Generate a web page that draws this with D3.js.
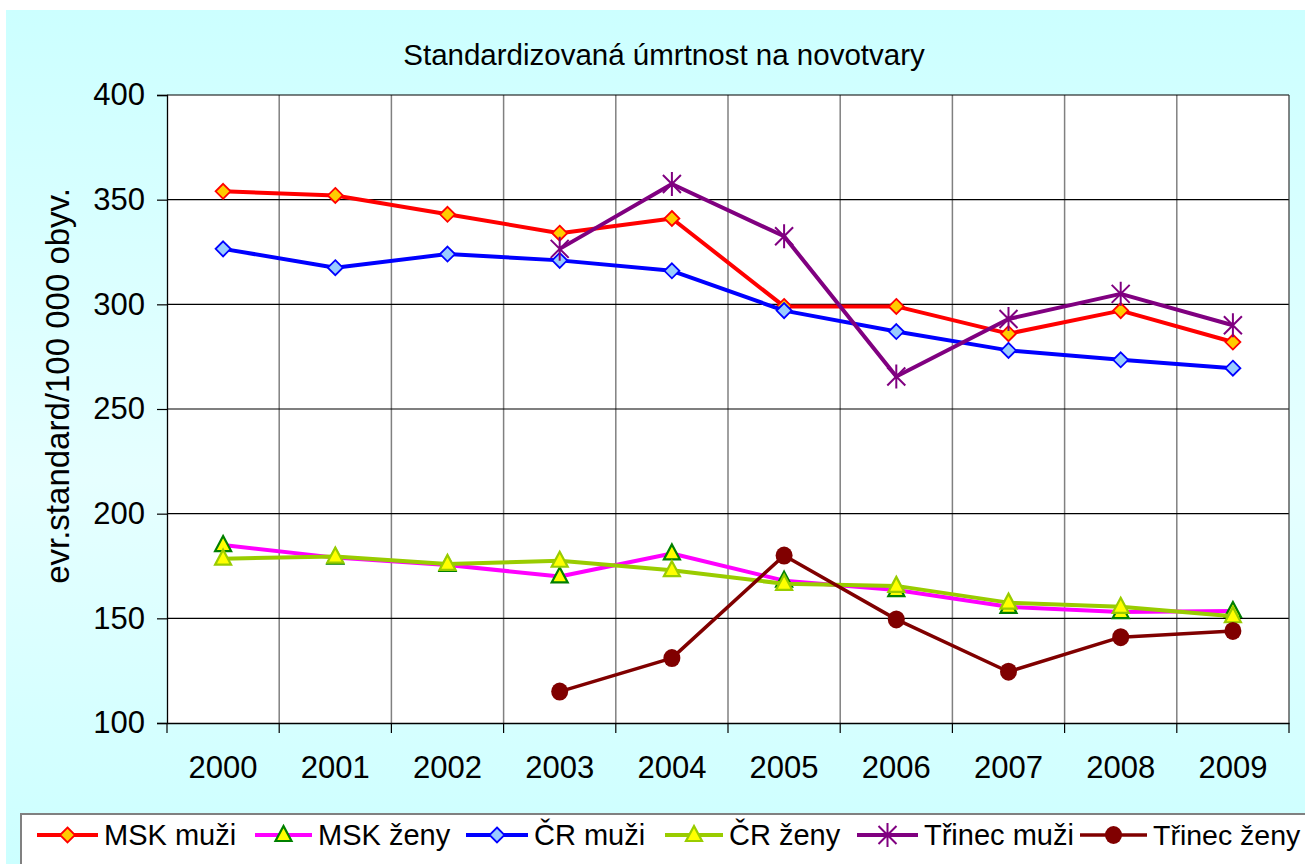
<!DOCTYPE html>
<html><head><meta charset="utf-8">
<script src="https://cdn.jsdelivr.net/npm/d3@7"></script>
<style>body{margin:0;background:#fff}svg{display:block}text{font-family:"Liberation Sans",Arial,sans-serif}</style>
</head><body>
<script>
const years = ["2000","2001","2002","2003","2004","2005","2006","2007","2008","2009"];
const yTicks = [100,150,200,250,300,350,400];
const mskMuzi   = [354,352,343,334,341,299,299,286,297,282];
const mskZeny   = [185,179,175.5,170,181,168,163.5,155.5,153,153.5];
const crMuzi    = [326.5,317.5,324,321,316,297,287,278,273.5,269.5];
const crZeny    = [178.5,179.5,176,177.5,173,166.5,165.5,157.5,155.5,151];
const trinecMuzi= [null,null,null,326.5,357.5,332.5,265.5,293,305,290];
const trinecZeny= [null,null,null,115,131,180,149.5,124.5,141,144];
const seriesNames = ["MSK muži","MSK ženy","ČR muži","ČR ženy","Třinec muži","Třinec ženy"];

const W=1305,H=864;
const svg=d3.select("body").append("svg").attr("width",W).attr("height",H);
const defs=svg.append("defs");
const g=defs.append("linearGradient").attr("id","bg").attr("x1",0).attr("y1",0).attr("x2",0).attr("y2",1);
g.append("stop").attr("offset","0").attr("stop-color","#CCFFFF");
g.append("stop").attr("offset","0.55").attr("stop-color","#E6FFFF");
g.append("stop").attr("offset","1").attr("stop-color","#CCFFFF");
svg.append("rect").attr("x",6).attr("y",10).attr("width",W-6).attr("height",H-10).attr("fill","url(#bg)");

const L=167,R=1289,T=95,B=723;
const x=d3.scaleBand().domain(years).range([L,R]);
const y=d3.scaleLinear().domain([100,400]).range([B,T]);
svg.append("rect").attr("x",L).attr("y",T).attr("width",R-L).attr("height",B-T).attr("fill","#fff");

const bounds=years.slice(1).map(d=>x(d));
svg.append("g").selectAll("line").data(bounds).join("line")
 .attr("x1",d=>d).attr("x2",d=>d).attr("y1",T).attr("y2",B).attr("stroke","#808080").attr("stroke-width",1.5);
svg.append("g").selectAll("line").data(yTicks.slice(1)).join("line")
 .attr("x1",L).attr("x2",R).attr("y1",d=>y(d)).attr("y2",d=>y(d)).attr("stroke","#000").attr("stroke-width",1.2);
svg.append("line").attr("x1",R).attr("x2",R).attr("y1",T).attr("y2",B).attr("stroke","#333").attr("stroke-width",1.2);

const yAxis=d3.axisLeft(y).tickValues(yTicks).tickSize(10).tickPadding(12);
const ya=svg.append("g").attr("transform",`translate(${L},0)`).call(yAxis);
ya.select(".domain").attr("stroke","#000").attr("stroke-width",1.3);
ya.selectAll(".tick line").attr("stroke","#000").attr("stroke-width",1.2);
ya.selectAll("text").attr("font-size",31).attr("fill","#000").attr("font-family","Liberation Sans, Arial, sans-serif");

const xAxis=d3.axisBottom(x).tickSize(0).tickPadding(33);
const xa=svg.append("g").attr("transform",`translate(0,${B})`).call(xAxis);
xa.select(".domain").attr("stroke","#000").attr("stroke-width",1.3);
xa.selectAll("text").attr("font-size",31).attr("fill","#000").attr("font-family","Liberation Sans, Arial, sans-serif");
svg.append("g").selectAll("line").data([L,...bounds,R]).join("line")
 .attr("x1",d=>d).attr("x2",d=>d).attr("y1",B).attr("y2",B+10).attr("stroke","#000").attr("stroke-width",1.2);

svg.append("text").attr("x",664).attr("y",65).attr("text-anchor","middle").attr("font-size",29.5).text("Standardizovaná úmrtnost na novotvary");
svg.append("text").attr("transform","translate(69,386) rotate(-90)").attr("text-anchor","middle").attr("font-size",33).text("evr.standard/100 000 obyv.");

const cx=d=>x(d)+x.bandwidth()/2;
const styles=[
 {data:mskMuzi,line:"#FF0000",w:4,m:"diamond",fill:"#FFCC00",stroke:"#FF0000"},
 {data:mskZeny,line:"#FF00FF",w:4,m:"triangle",fill:"#FFFF00",stroke:"#008000"},
 {data:crMuzi,line:"#0000FF",w:4,m:"diamond",fill:"#99CCFF",stroke:"#0000FF"},
 {data:crZeny,line:"#99CC00",w:4,m:"triangle",fill:"#FFFF00",stroke:"#99CC00"},
 {data:trinecMuzi,line:"#800080",w:4,m:"star",fill:"none",stroke:"#800080"},
 {data:trinecZeny,line:"#800000",w:3.5,m:"circle",fill:"#800000",stroke:"#800000"}
];
function drawMarker(sel,type,fill,stroke){
  if(type==="diamond") sel.append("path").attr("d","M0,-7.5L7.5,0L0,7.5L-7.5,0Z").attr("fill",fill).attr("stroke",stroke).attr("stroke-width",1.8);
  else if(type==="triangle") sel.append("path").attr("d","M0,-9L8,6L-8,6Z").attr("fill",fill).attr("stroke",stroke).attr("stroke-width",2.2);
  else if(type==="star") sel.append("path").attr("d","M-9,-9L9,9M-9,9L9,-9M0,-12L0,12").attr("fill","none").attr("stroke",stroke).attr("stroke-width",2);
  else if(type==="circle") sel.append("ellipse").attr("rx",8.5).attr("ry",9).attr("fill",fill);
}
styles.forEach(s=>{
  const pts=years.map((yr,i)=>({yr,v:s.data[i]})).filter(p=>p.v!=null);
  const line=d3.line().x(p=>cx(p.yr)).y(p=>y(p.v));
  svg.append("path").attr("d",line(pts)).attr("fill","none").attr("stroke",s.line).attr("stroke-width",s.w).attr("stroke-linejoin","round");
  pts.forEach(p=>{
    const gm=svg.append("g").attr("transform",`translate(${cx(p.yr)},${y(p.v)})`);
    drawMarker(gm,s.m,s.fill,s.stroke);
  });
});

svg.append("rect").attr("x",21).attr("y",814).attr("width",W).attr("height",60).attr("fill","#fff").attr("stroke","#808080").attr("stroke-width",2);
const legLine=[37,255,466,665,857,1080];
const legText=[104,318,534,729,924,1153];
const ly=835;
styles.forEach((s,i)=>{
  const len=legText[i]-6-legLine[i];
  svg.append("line").attr("x1",legLine[i]).attr("x2",legLine[i]+len).attr("y1",ly).attr("y2",ly).attr("stroke",s.line).attr("stroke-width",s.w);
  const gm=svg.append("g").attr("transform",`translate(${legLine[i]+len/2},${ly})`);
  drawMarker(gm,s.m,s.fill,s.stroke);
  svg.append("text").attr("x",legText[i]).attr("y",845).attr("font-size",i===5?28.5:29).text(seriesNames[i]);
});
</script>
</body></html>
